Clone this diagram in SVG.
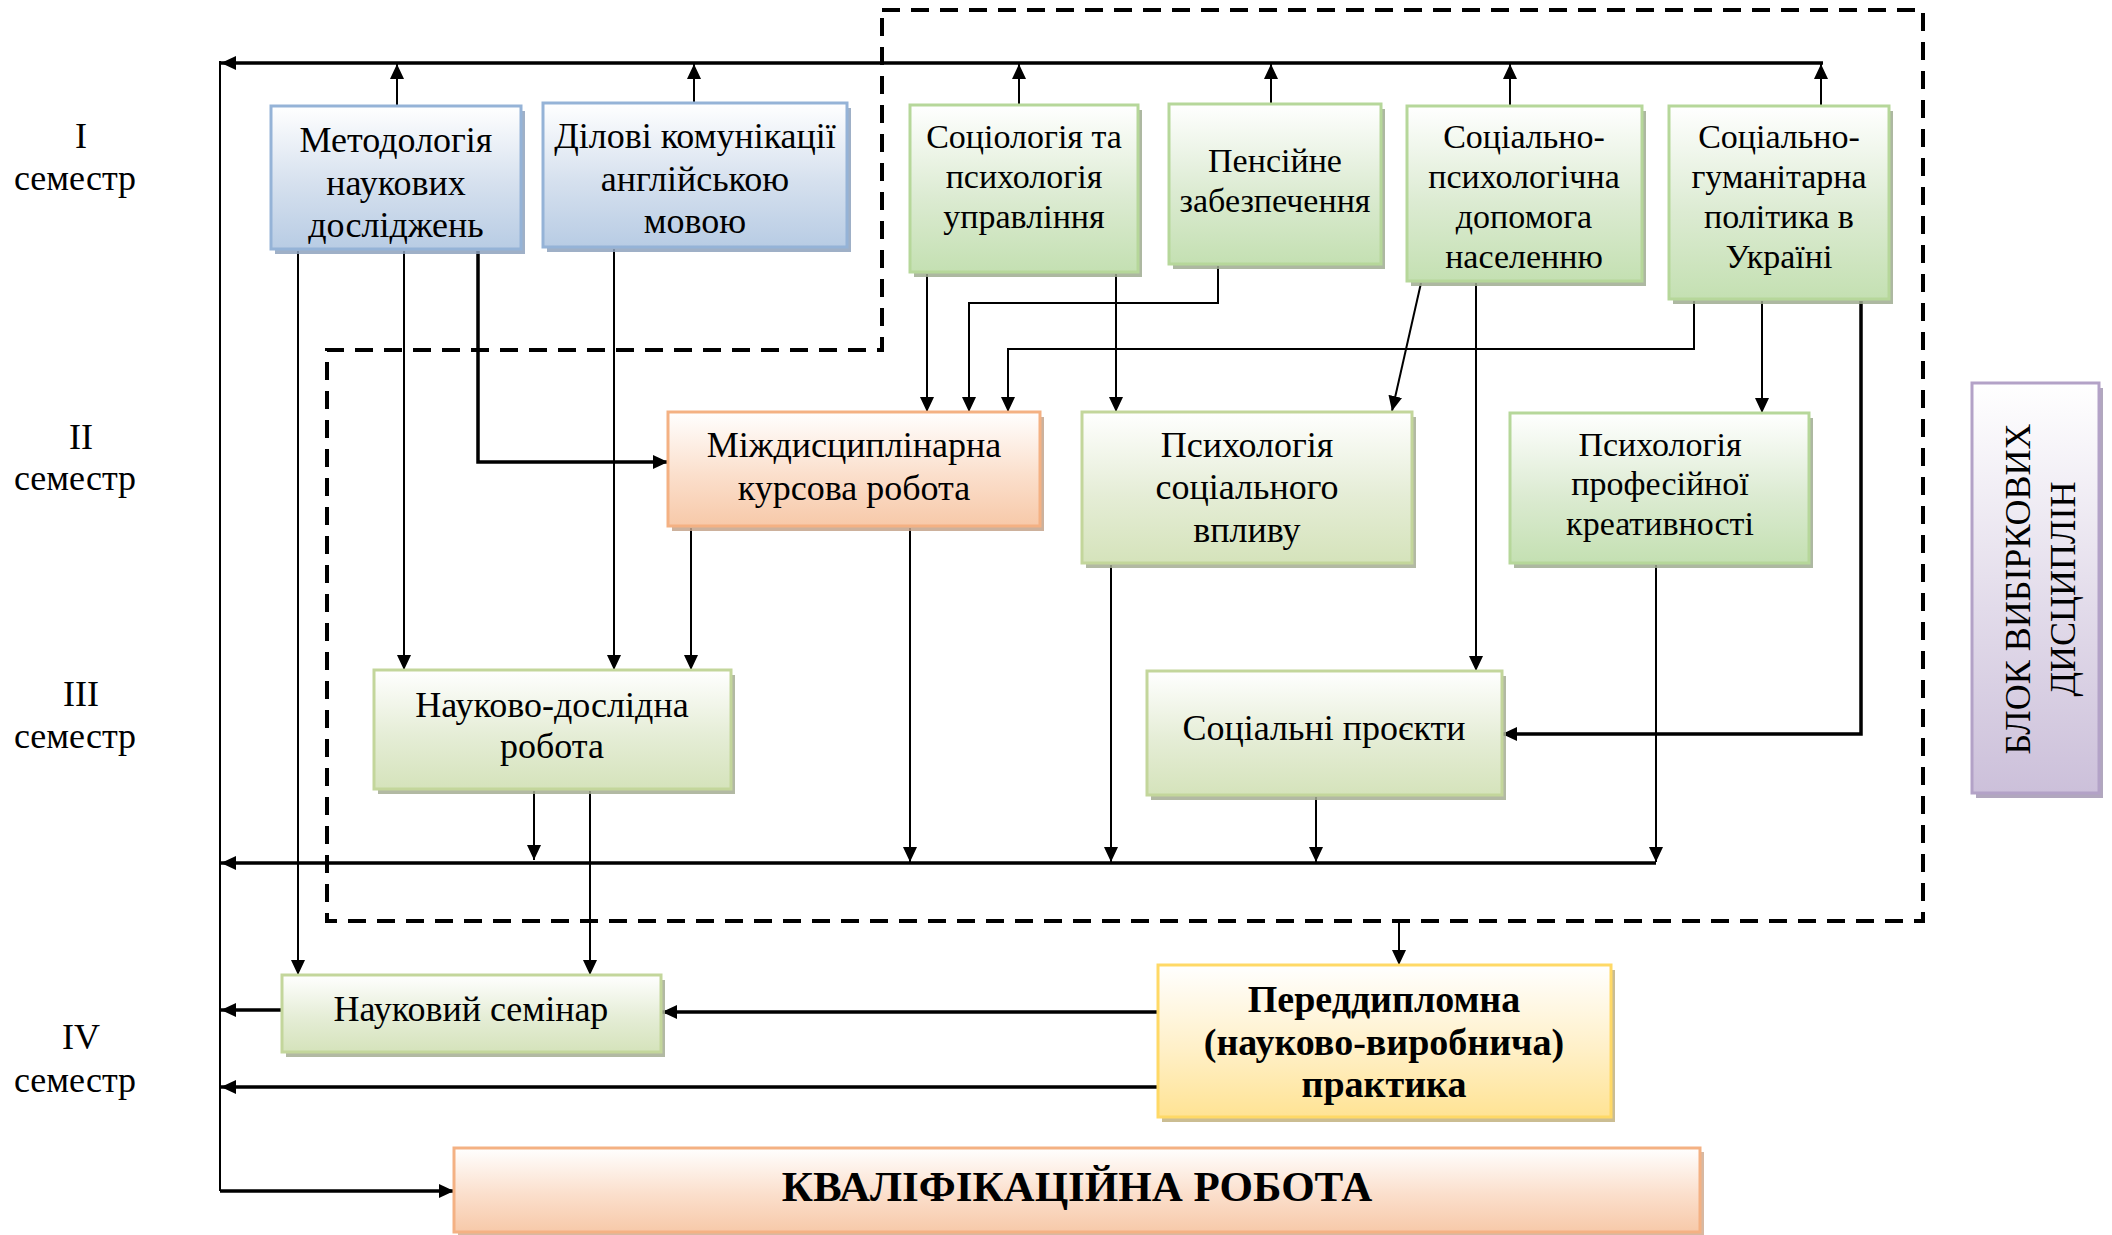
<svg xmlns="http://www.w3.org/2000/svg" width="2112" height="1235" viewBox="0 0 2112 1235">
<defs>
<linearGradient id="gBlue" x1="0" y1="0" x2="0" y2="1"><stop offset="0" stop-color="#ffffff"/><stop offset="0.55" stop-color="#d5e0ee"/><stop offset="1" stop-color="#b8cce4"/></linearGradient>
<linearGradient id="gGreen" x1="0" y1="0" x2="0" y2="1"><stop offset="0" stop-color="#ffffff"/><stop offset="0.55" stop-color="#dcebd2"/><stop offset="1" stop-color="#c4e0b2"/></linearGradient>
<linearGradient id="gOlive" x1="0" y1="0" x2="0" y2="1"><stop offset="0" stop-color="#ffffff"/><stop offset="0.55" stop-color="#e5edd6"/><stop offset="1" stop-color="#d5e3bb"/></linearGradient>
<linearGradient id="gOrange" x1="0" y1="0" x2="0" y2="1"><stop offset="0" stop-color="#ffffff"/><stop offset="0.55" stop-color="#fbdfcc"/><stop offset="1" stop-color="#f7c9a9"/></linearGradient>
<linearGradient id="gYellow" x1="0" y1="0" x2="0" y2="1"><stop offset="0" stop-color="#ffffff"/><stop offset="0.55" stop-color="#fff0c8"/><stop offset="1" stop-color="#ffe394"/></linearGradient>
<linearGradient id="gPurple" x1="0" y1="0" x2="0" y2="1"><stop offset="0" stop-color="#ffffff"/><stop offset="0.55" stop-color="#e2dbea"/><stop offset="1" stop-color="#ccc0da"/></linearGradient>
<marker id="a" viewBox="0 0 15 14" refX="15" refY="7" markerWidth="15" markerHeight="14" orient="auto" markerUnits="userSpaceOnUse"><path d="M0,0 L15,7 L0,14 z" fill="#000"/></marker>
<style>
.t{font-family:"Liberation Serif","Times New Roman",serif;font-size:36px;fill:#000;text-anchor:middle}
.s34{font-size:34px}
.b{font-weight:bold}
.c{fill:none;stroke:#000;stroke-width:2}
.k{stroke-width:3.5}
.ar{marker-end:url(#a)}
.blue{fill:url(#gBlue);stroke:#95b3d7;stroke-width:3}
.green{fill:url(#gGreen);stroke:#b6d79a;stroke-width:3}
.olive{fill:url(#gOlive);stroke:#c3d69b;stroke-width:3}
.orange{fill:url(#gOrange);stroke:#f4b183;stroke-width:3}
.yellow{fill:url(#gYellow);stroke:#ffd966;stroke-width:3}
.purple{fill:url(#gPurple);stroke:#b3a2c7;stroke-width:3}
.sh{opacity:0.85}
.dash{fill:none;stroke:#000;stroke-width:4;stroke-dasharray:18 11}
</style>
</defs>
<rect width="2112" height="1235" fill="#fff"/>

<g id="semesters">
<text class="t" x="81" y="148">I</text><text class="t" x="75" y="190">семестр</text>
<text class="t" x="81" y="449">II</text><text class="t" x="75" y="490">семестр</text>
<text class="t" x="81" y="706">III</text><text class="t" x="75" y="748">семестр</text>
<text class="t" x="81" y="1049">IV</text><text class="t" x="75" y="1092">семестр</text>
</g>

<g id="block-frame">
<path class="dash" d="M882,10 H1923 V921 H327 V350 H882 Z"/>
</g>

<g id="connectors">
<path class="c k ar" d="M1823,63 H221"/>
<path class="c" d="M220,61 V1191"/>
<path class="c k ar" d="M220,1191 H454"/>
<path class="c ar" d="M397,106 V64"/>
<path class="c ar" d="M694,103 V64"/>
<path class="c ar" d="M1019,105 V64"/>
<path class="c ar" d="M1271,104 V64"/>
<path class="c ar" d="M1510,106 V64"/>
<path class="c ar" d="M1821,106 V64"/>
<path class="c ar" d="M298,251 V975"/>
<path class="c ar" d="M404,251 V670"/>
<path class="c k ar" d="M478,251 V462 H668"/>
<path class="c ar" d="M614,249 V670"/>
<path class="c ar" d="M927,274 V412"/>
<path class="c ar" d="M1218,266 V303 H969 V412"/>
<path class="c ar" d="M1694,301 V349 H1008 V412"/>
<path class="c ar" d="M1116,274 V412"/>
<path class="c ar" d="M1421,283 L1392,411"/>
<path class="c ar" d="M1476,283 V671"/>
<path class="c ar" d="M1762,301 V413"/>
<path class="c k ar" d="M1861,301 V734 H1502"/>
<path class="c ar" d="M691,528 V670"/>
<path class="c ar" d="M910,528 V862"/>
<path class="c ar" d="M534,791 V860"/>
<path class="c ar" d="M590,791 V975"/>
<path class="c ar" d="M1111,565 V862"/>
<path class="c ar" d="M1316,797 V862"/>
<path class="c ar" d="M1656,565 V862"/>
<path class="c k ar" d="M1656,863 H221"/>
<path class="c ar" d="M1399,921 V965"/>
<path class="c k ar" d="M282,1010 H221"/>
<path class="c k ar" d="M1158,1012 H662"/>
<path class="c k ar" d="M1158,1087 H221"/>
</g>

<g id="n-methodology">
<rect x="275" y="111" width="250" height="143" fill="#8ea2bd" class="sh"/>
<rect class="blue" x="271" y="106" width="250" height="143"/>
<text class="t" x="396"><tspan x="396" y="152">Методологія</tspan><tspan x="396" y="195">наукових</tspan><tspan x="396" y="237">досліджень</tspan></text>
</g>
<g id="n-dilovi">
<rect x="547" y="108" width="304" height="144" fill="#8ea2bd" class="sh"/>
<rect class="blue" x="543" y="103" width="304" height="144"/>
<text class="t"><tspan x="695" y="148">Ділові комунікації</tspan><tspan x="695" y="191">англійською</tspan><tspan x="695" y="233">мовою</tspan></text>
</g>
<g id="n-sociology">
<rect x="914" y="110" width="228" height="167" fill="#9fab90" class="sh"/>
<rect class="green" x="910" y="105" width="228" height="167"/>
<text class="t s34"><tspan x="1024" y="148">Соціологія та</tspan><tspan x="1024" y="188">психологія</tspan><tspan x="1024" y="228">управління</tspan></text>
</g>
<g id="n-pension">
<rect x="1173" y="109" width="212" height="160" fill="#9fab90" class="sh"/>
<rect class="green" x="1169" y="104" width="212" height="160"/>
<text class="t s34"><tspan x="1275" y="172">Пенсійне</tspan><tspan x="1275" y="212">забезпечення</tspan></text>
</g>
<g id="n-socpsych">
<rect x="1411" y="111" width="235" height="175" fill="#9fab90" class="sh"/>
<rect class="green" x="1407" y="106" width="235" height="175"/>
<text class="t s34"><tspan x="1524" y="148">Соціально-</tspan><tspan x="1524" y="188">психологічна</tspan><tspan x="1524" y="228">допомога</tspan><tspan x="1524" y="268">населенню</tspan></text>
</g>
<g id="n-sochum">
<rect x="1673" y="111" width="220" height="193" fill="#9fab90" class="sh"/>
<rect class="green" x="1669" y="106" width="220" height="193"/>
<text class="t s34"><tspan x="1779" y="148">Соціально-</tspan><tspan x="1779" y="188">гуманітарна</tspan><tspan x="1779" y="228">політика в</tspan><tspan x="1779" y="268">Україні</tspan></text>
</g>
<g id="n-mizh">
<rect x="672" y="417" width="372" height="114" fill="#c4a38b" class="sh"/>
<rect class="orange" x="668" y="412" width="372" height="114"/>
<text class="t"><tspan x="854" y="457">Міждисциплінарна</tspan><tspan x="854" y="500">курсова робота</tspan></text>
</g>
<g id="n-psychsoc">
<rect x="1086" y="417" width="330" height="151" fill="#a5ad93" class="sh"/>
<rect class="olive" x="1082" y="412" width="330" height="151"/>
<text class="t"><tspan x="1247" y="457">Психологія</tspan><tspan x="1247" y="499">соціального</tspan><tspan x="1247" y="542">впливу</tspan></text>
</g>
<g id="n-psychprof">
<rect x="1514" y="418" width="299" height="150" fill="#9fab90" class="sh"/>
<rect class="green" x="1510" y="413" width="299" height="150"/>
<text class="t s34"><tspan x="1660" y="456">Психологія</tspan><tspan x="1660" y="495">професійної</tspan><tspan x="1660" y="535">креативності</tspan></text>
</g>
<g id="n-research">
<rect x="378" y="675" width="357" height="119" fill="#a5ad93" class="sh"/>
<rect class="olive" x="374" y="670" width="357" height="119"/>
<text class="t"><tspan x="552" y="717">Науково-дослідна</tspan><tspan x="552" y="758">робота</tspan></text>
</g>
<g id="n-projects">
<rect x="1151" y="676" width="355" height="124" fill="#a5ad93" class="sh"/>
<rect class="olive" x="1147" y="671" width="355" height="124"/>
<text class="t" x="1324" y="740">Соціальні проєкти</text>
</g>
<g id="n-seminar">
<rect x="286" y="980" width="379" height="77" fill="#a5ad93" class="sh"/>
<rect class="olive" x="282" y="975" width="379" height="77"/>
<text class="t" x="471" y="1021">Науковий семінар</text>
</g>
<g id="n-practice">
<rect x="1162" y="970" width="453" height="152" fill="#c2b27f" class="sh"/>
<rect class="yellow" x="1158" y="965" width="453" height="152"/>
<text class="t b" style="font-size:38px"><tspan x="1384" y="1012">Переддипломна</tspan><tspan x="1384" y="1055">(науково-виробнича)</tspan><tspan x="1384" y="1097">практика</tspan></text>
</g>
<g id="n-thesis">
<rect x="458" y="1152" width="1246" height="84" fill="#d1ab91" class="sh"/>
<rect class="orange" x="454" y="1148" width="1246" height="84"/>
<text class="t b" style="font-size:43px" x="1077" y="1201">КВАЛІФІКАЦІЙНА РОБОТА</text>
</g>
<g id="n-block">
<rect x="1976" y="388" width="127" height="410" fill="#a398b3" class="sh"/>
<rect class="purple" x="1972" y="383" width="127" height="410"/>
<text class="t" transform="translate(2030,589) rotate(-90)"><tspan x="0" y="0">БЛОК ВИБІРКОВИХ</tspan><tspan x="0" y="45">ДИСЦИПЛІН</tspan></text>
</g>
</svg>
